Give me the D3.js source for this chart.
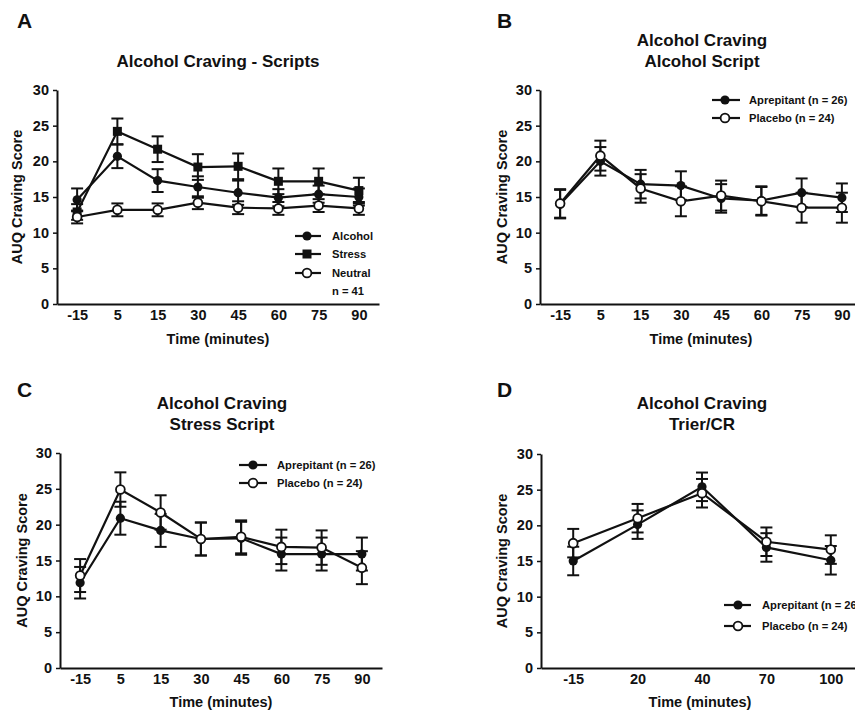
<!DOCTYPE html>
<html>
<head>
<meta charset="utf-8">
<script src="https://cdn.jsdelivr.net/npm/d3@7"></script>
<style>
  html, body { margin: 0; padding: 0; background: #fff; }
  svg { display: block; }
  text { font-family: "Liberation Sans", Arial, sans-serif; font-weight: bold; fill: #111; }
</style>
</head>
<body>
<svg id="chart" width="855" height="713"></svg>
<script>
// ---------- DATA ----------
const timesScripts = ["-15", "5", "15", "30", "45", "60", "75", "90"];
const timesTrier   = ["-15", "20", "40", "70", "100"];
const yTicks = [0, 5, 10, 15, 20, 25, 30];

// Panel A
const aAlcohol    = [14.6, 20.7, 17.3, 16.4, 15.6, 14.9, 15.4, 15.0];
const aAlcoholSem = [1.6, 1.65, 1.6, 1.5, 1.7, 1.2, 1.2, 1.2];
const aStress     = [12.9, 24.2, 21.7, 19.2, 19.3, 17.2, 17.2, 15.9];
const aStressSem  = [1.1, 1.8, 1.8, 1.8, 1.8, 1.8, 1.8, 1.8];
const aNeutral    = [12.2, 13.2, 13.2, 14.2, 13.5, 13.4, 13.8, 13.4];
const aNeutralSem = [0.9, 0.9, 0.9, 0.9, 0.9, 0.9, 0.9, 0.9];

// Panel B (Alcohol script)
const bAprep     = [14.0, 20.0, 16.8, 16.6, 14.8, 14.5, 15.6, 14.9];
const bAprepSem  = [2.0, 2.0, 2.0, 2.0, 2.0, 2.0, 2.0, 2.0];
const bPlac      = [14.1, 20.8, 16.2, 14.4, 15.2, 14.4, 13.5, 13.5];
const bPlacSem   = [2.0, 2.1, 2.0, 2.1, 2.1, 2.0, 2.1, 2.1];

// Panel C (Stress script)
const cAprep     = [11.9, 20.9, 19.2, 18.0, 18.1, 15.9, 15.9, 15.9];
const cAprepSem  = [2.2, 2.3, 2.3, 2.3, 2.3, 2.3, 2.3, 2.3];
const cPlac      = [12.9, 24.9, 21.7, 18.0, 18.3, 16.9, 16.8, 14.0];
const cPlacSem   = [2.3, 2.4, 2.4, 2.3, 2.3, 2.4, 2.4, 2.3];

// Panel D (Trier/CR)
const dAprep     = [15.0, 20.1, 25.4, 16.9, 15.1];
const dAprepSem  = [2.0, 2.0, 2.0, 2.0, 2.0];
const dPlac      = [17.5, 21.0, 24.5, 17.7, 16.6];
const dPlacSem   = [2.0, 2.0, 2.0, 2.0, 2.0];

// ---------- LAYOUT ----------
const panels = [
  { letter: "A", lx: 17, ly: 28, title: ["Alcohol Craving - Scripts"], tx: 218, ty: 67,
    x0: 57, x1: 379, yTop: 90, yBot: 304, cats: timesScripts, ylabX: 22, tickY: 320, xlabY: 344,
    series: [
      { name: "Alcohol", vals: aAlcohol, sem: aAlcoholSem, shape: "filled" },
      { name: "Stress", vals: aStress, sem: aStressSem, shape: "square" },
      { name: "Neutral", vals: aNeutral, sem: aNeutralSem, shape: "open" }
    ],
    legend: { lx0: 295, lx1: 321, mx: 307, tx: 332, ys: [236, 254, 273], extra: { text: "n = 41", y: 291 } } },
  { letter: "B", lx: 497, ly: 28, title: ["Alcohol Craving", "Alcohol Script"], tx: 702, ty: 46,
    x0: 540, x1: 862, yTop: 90, yBot: 304, cats: timesScripts, ylabX: 507, tickY: 320, xlabY: 344,
    series: [
      { name: "Aprepitant (n = 26)", vals: bAprep, sem: bAprepSem, shape: "filled" },
      { name: "Placebo (n = 24)", vals: bPlac, sem: bPlacSem, shape: "open" }
    ],
    legend: { lx0: 712, lx1: 740, mx: 725, tx: 749, ys: [100, 118] } },
  { letter: "C", lx: 17, ly: 397, title: ["Alcohol Craving", "Stress Script"], tx: 222, ty: 409,
    x0: 60, x1: 382, yTop: 453, yBot: 668, cats: timesScripts, ylabX: 27, tickY: 684, xlabY: 707,
    series: [
      { name: "Aprepitant (n = 26)", vals: cAprep, sem: cAprepSem, shape: "filled" },
      { name: "Placebo (n = 24)", vals: cPlac, sem: cPlacSem, shape: "open" }
    ],
    legend: { lx0: 239, lx1: 267, mx: 253, tx: 277, ys: [465, 483] } },
  { letter: "D", lx: 497, ly: 397, title: ["Alcohol Craving", "Trier/CR"], tx: 702, ty: 409,
    x0: 541, x1: 863, yTop: 454, yBot: 668, cats: timesTrier, ylabX: 507, tickY: 684, xlabY: 707,
    series: [
      { name: "Aprepitant (n = 26)", vals: dAprep, sem: dAprepSem, shape: "filled" },
      { name: "Placebo (n = 24)", vals: dPlac, sem: dPlacSem, shape: "open" }
    ],
    legend: { lx0: 724, lx1: 751, mx: 738, tx: 762, ys: [605, 626] } }
];

const svg = d3.select("#chart");
const INK = "#111";

function drawMarker(g, shape, cx, cy) {
  if (shape === "square") {
    g.append("rect").attr("x", cx - 4.5).attr("y", cy - 4.5).attr("width", 9).attr("height", 9)
      .attr("fill", INK);
  } else if (shape === "filled") {
    g.append("circle").attr("cx", cx).attr("cy", cy).attr("r", 4.6).attr("fill", INK);
  } else {
    g.append("circle").attr("cx", cx).attr("cy", cy).attr("r", 4.4)
      .attr("fill", "#fff").attr("stroke", INK).attr("stroke-width", 1.8);
  }
}

panels.forEach(p => {
  const g = svg.append("g");
  const x = d3.scalePoint().domain(p.cats).range([p.x0, p.x1]).padding(0.5);
  const y = d3.scaleLinear().domain([0, 30]).range([p.yBot, p.yTop]);

  // panel letter
  g.append("text").attr("x", p.lx).attr("y", p.ly).attr("font-size", 21).text(p.letter);

  // title
  p.title.forEach((t, i) => {
    g.append("text").attr("x", p.tx).attr("y", p.ty + i * 21).attr("text-anchor", "middle")
      .attr("font-size", 17).text(t);
  });

  // y axis
  const ya = g.append("g").attr("transform", `translate(${p.x0},0)`)
    .call(d3.axisLeft(y).tickValues(yTicks).tickSize(4).tickPadding(4).tickSizeOuter(0));
  ya.select(".domain").attr("stroke", INK).attr("stroke-width", 2);
  ya.selectAll(".tick line").attr("stroke", INK).attr("stroke-width", 1.5);
  ya.selectAll(".tick text").attr("font-size", 14.5).attr("font-family", "Liberation Sans, Arial, sans-serif")
    .attr("font-weight", "bold").attr("fill", INK);

  // x axis (no ticks)
  const xa = g.append("g").attr("transform", `translate(0,${p.yBot})`)
    .call(d3.axisBottom(x).tickSize(0).tickPadding(0).tickSizeOuter(0));
  xa.select(".domain").attr("stroke", INK).attr("stroke-width", 2);
  xa.selectAll(".tick text").attr("font-size", 14.5).attr("font-family", "Liberation Sans, Arial, sans-serif")
    .attr("font-weight", "bold").attr("fill", INK)
    .attr("dy", null).attr("y", p.tickY - p.yBot);

  // axis labels
  g.append("text").attr("x", (p.x0 + p.x1) / 2 - (p.cats.length === 5 ? 2 : 0)).attr("y", p.xlabY)
    .attr("text-anchor", "middle").attr("font-size", 14.5).text("Time (minutes)");
  g.append("text").attr("transform", `translate(${p.ylabX},${(p.yTop + p.yBot) / 2}) rotate(-90)`)
    .attr("text-anchor", "middle").attr("font-size", 14.5).text("AUQ Craving Score");

  const line = d3.line().x((d, i) => x(p.cats[i])).y(d => y(d));

  // lines
  p.series.forEach(s => {
    g.append("path").datum(s.vals).attr("d", line).attr("fill", "none")
      .attr("stroke", INK).attr("stroke-width", 2.2);
  });
  // error bars
  p.series.forEach(s => {
    s.vals.forEach((v, i) => {
      const cx = x(p.cats[i]);
      const yt = y(v + s.sem[i]), yb = y(v - s.sem[i]);
      g.append("line").attr("x1", cx).attr("x2", cx).attr("y1", yt).attr("y2", yb)
        .attr("stroke", INK).attr("stroke-width", 2);
      [yt, yb].forEach(yy => {
        g.append("line").attr("x1", cx - 6).attr("x2", cx + 6).attr("y1", yy).attr("y2", yy)
          .attr("stroke", INK).attr("stroke-width", 2);
      });
    });
  });
  // markers
  p.series.forEach(s => {
    s.vals.forEach((v, i) => drawMarker(g, s.shape, x(p.cats[i]), y(v)));
  });

  // legend
  const L = p.legend;
  p.series.forEach((s, i) => {
    const yy = L.ys[i];
    g.append("line").attr("x1", L.lx0).attr("x2", L.lx1).attr("y1", yy).attr("y2", yy)
      .attr("stroke", INK).attr("stroke-width", 2.2);
    drawMarker(g, s.shape, L.mx, yy);
    g.append("text").attr("x", L.tx).attr("y", yy + 4).attr("font-size", 11.2).text(s.name);
  });
  if (L.extra) {
    g.append("text").attr("x", L.tx).attr("y", L.extra.y + 4).attr("font-size", 11.2).text(L.extra.text);
  }
});
</script>
</body>
</html>
